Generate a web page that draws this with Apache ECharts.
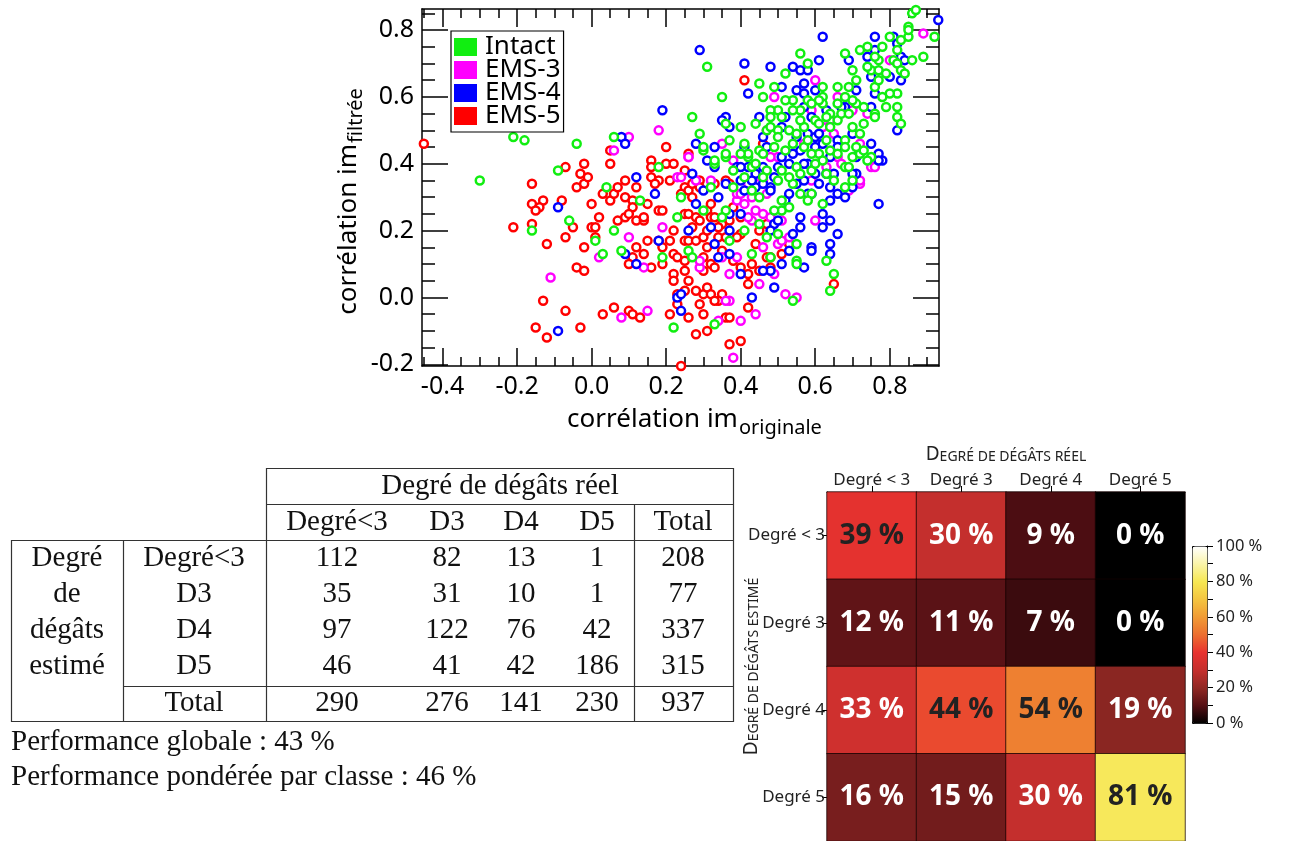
<!DOCTYPE html>
<html><head><meta charset="utf-8">
<script src="https://cdn.jsdelivr.net/npm/echarts@6/dist/echarts.min.js"></script>
<style>html,body{margin:0;padding:0;background:#fff}#c{width:1289px;height:841px}</style>
</head><body><div id="c"></div><script>
// ---------------- scatter data (corrélation im_originale, corrélation im_filtrée) ----------------
const intact = [[-0.30,0.35],[-0.21,0.48],[-0.18,0.47],[-0.04,0.46],[0.06,0.48],[-0.09,0.38],[0.04,0.33],[0.13,0.29],[-0.06,0.23],[-0.16,0.20],[0.06,0.20],[0.01,0.17],[0.03,0.13],[0.08,0.14],[0.19,0.12],[0.22,-0.09],[0.18,0.39],[0.24,0.30],[0.23,0.24],
[0.31,0.69],[0.35,0.60],[0.45,0.64],[0.46,0.60],[0.49,0.63],[0.52,0.67],[0.54,0.59],[0.56,0.73],[0.58,0.70],[0.62,0.63],[0.62,0.60],[0.66,0.63],[0.69,0.63],[0.71,0.65],[0.68,0.73],[0.72,0.74],[0.74,0.75],[0.70,0.68],[0.75,0.68],[0.74,0.69],[0.77,0.68],[0.76,0.63],[0.77,0.65],[0.77,0.71],[0.78,0.75],[0.80,0.78],[0.82,0.74],[0.83,0.77],[0.85,0.78],[0.79,0.67],[0.81,0.71],[0.86,0.71],[0.82,0.70],[0.83,0.68],[0.84,0.67],[0.82,0.61],[0.80,0.61],[0.82,0.57],[0.82,0.54],[0.83,0.52],[0.85,0.81],[0.85,0.80],[0.86,0.85],[0.87,0.86],[0.92,0.78],[0.89,0.72],[0.76,0.72],[0.78,0.60],[0.79,0.57],[0.73,0.57],[0.76,0.55],[0.76,0.54],[0.71,0.58],[0.70,0.59],[0.66,0.58],[0.68,0.60],[0.62,0.58],[0.61,0.59],[0.64,0.55],[0.58,0.59],[0.59,0.58],[0.56,0.56],[0.54,0.56],[0.50,0.56],[0.48,0.56],[0.48,0.54],[0.36,0.52],[0.40,0.51],[0.44,0.52],[0.27,0.54],[0.29,0.49],[0.30,0.44],[0.33,0.40],[0.37,0.47],[0.36,0.42],[0.41,0.46],[0.42,0.42],[0.45,0.44],[0.47,0.50],[0.50,0.50],[0.50,0.48],[0.51,0.54],[0.53,0.50],[0.55,0.49],[0.54,0.46],[0.57,0.51],[0.60,0.53],[0.61,0.52],[0.64,0.51],[0.63,0.47],[0.68,0.47],[0.70,0.51],[0.72,0.49],[0.68,0.45],[0.70,0.42],[0.72,0.43],[0.75,0.42],[0.61,0.43],[0.59,0.43],[0.63,0.37],[0.55,0.39],[0.51,0.38],[0.47,0.38],[0.43,0.39],[0.41,0.36],[0.38,0.33],[0.43,0.32],[0.50,0.35],[0.54,0.34],[0.68,0.39],[0.70,0.35],[0.73,0.44],[0.74,0.41],
[0.65,0.07],[0.64,0.02],[0.63,0.11],[0.55,0.11],[0.55,0.10],[0.54,-0.01],[0.55,0.16],[0.48,0.12],[0.47,0.18],[0.50,0.19],[0.43,0.13],[0.41,0.20],[0.45,0.22],[0.37,0.17],[0.36,0.26],[0.35,0.24],[0.30,0.26],[0.26,0.14],[0.27,0.12],[0.33,-0.08],[0.32,0.33],[0.33,0.41],[0.30,0.45],[0.36,0.43],[0.42,0.43],[0.51,0.29],[0.51,0.26],[0.49,0.26],[0.56,0.31],[0.59,0.31],[0.58,0.29],[0.62,0.28],[0.59,0.38],[0.53,0.36],[0.46,0.36],[0.44,0.40],[0.68,0.33],[0.69,0.39],
[0.57,0.45],[0.58,0.47],[0.62,0.41],[0.64,0.44],[0.66,0.53],[0.67,0.55],[0.69,0.55],[0.73,0.52],[0.52,0.44],[0.49,0.45],[0.46,0.43],[0.40,0.43],[0.38,0.38],[0.45,0.30],[0.53,0.27],[0.56,0.37],[0.60,0.40],[0.65,0.35],[0.71,0.45],[0.66,0.43],[0.56,0.53],[0.63,0.54],[0.52,0.59],[0.48,0.51]];
const ems3 = [[0.06,0.44],[0.10,0.48],[0.19,0.21],[0.10,0.18],[0.02,0.12],[0.14,0.09],[-0.11,0.06],[0.08,-0.06],[0.15,-0.04],[0.23,0.36],[0.18,0.50],[0.26,0.42],[0.24,0.36],
[0.60,0.65],[0.49,0.60],[0.80,0.71],[0.89,0.79],[0.74,0.55],[0.70,0.56],[0.66,0.60],[0.64,0.53],[0.59,0.56],[0.57,0.46],[0.62,0.51],[0.65,0.49],[0.72,0.46],[0.75,0.39],[0.72,0.34],[0.47,0.50],[0.38,0.41],[0.35,0.46],[0.63,0.39],[0.66,0.42],[0.67,0.40],[0.50,0.42],[0.48,0.42],[0.59,0.35],[0.46,0.35],[0.44,0.34],[0.32,0.35],
[0.72,0.35],[0.76,0.39],[0.69,0.32],[0.60,0.23],[0.52,0.01],[0.49,0.07],[0.45,0.04],[0.44,-0.05],[0.40,-0.07],[0.38,-0.18],[0.37,-0.01],[0.34,-0.07],[0.28,0.35],[0.26,0.42],[0.29,0.09],[0.29,0.11],[0.46,0.15],[0.50,0.16],[0.51,0.17],[0.53,0.18],[0.43,0.23],[0.42,0.24],[0.39,0.29],[0.39,0.31],[0.44,0.26],[0.46,0.25],[0.48,0.24],[0.51,0.23],[0.45,0.34],[0.42,0.34],[0.39,0.12],[0.35,0.12],[0.37,0.07],[0.36,-0.01],[0.55,0.00],[0.41,0.28],[0.43,0.30],[0.47,0.31],[0.40,0.31]];
const ems4 = [[-0.09,0.27],[0.12,0.36],[0.17,0.31],[0.09,0.13],[0.12,0.10],[0.18,0.17],[-0.09,-0.10],[0.23,0.00],[0.08,0.48],[0.09,0.46],[0.19,0.56],
[0.29,0.74],[0.41,0.70],[0.48,0.69],[0.42,0.61],[0.51,0.63],[0.54,0.69],[0.56,0.68],[0.58,0.68],[0.61,0.71],[0.62,0.78],[0.57,0.64],[0.55,0.62],[0.57,0.61],[0.60,0.62],[0.71,0.62],[0.69,0.71],[0.76,0.74],[0.74,0.72],[0.75,0.66],[0.81,0.78],[0.82,0.76],[0.83,0.72],[0.84,0.71],[0.80,0.66],[0.83,0.65],[0.82,0.50],[0.93,0.83],[0.76,0.78],[0.76,0.61],[0.75,0.57],[0.68,0.57],[0.67,0.57],[0.63,0.56],[0.57,0.57],[0.45,0.54],[0.36,0.54],[0.35,0.53],[0.37,0.51],[0.28,0.46],[0.31,0.41],[0.33,0.39],[0.33,0.45],[0.41,0.45],[0.46,0.48],[0.51,0.51],[0.52,0.54],[0.55,0.48],[0.58,0.49],[0.59,0.54],[0.60,0.48],[0.62,0.46],[0.66,0.47],[0.70,0.49],[0.75,0.46],[0.71,0.42],[0.77,0.43],[0.78,0.41],[0.60,0.37],[0.60,0.45],[0.58,0.40],[0.63,0.37],[0.65,0.37],[0.57,0.40],[0.53,0.40],[0.51,0.42],[0.47,0.45],[0.50,0.39],[0.55,0.34],[0.59,0.31],[0.66,0.31],[0.64,0.33],[0.66,0.45],[0.71,0.37],[0.46,0.39],[0.42,0.39],[0.39,0.39],[0.44,0.37],[0.36,0.34],[0.40,0.35],[0.41,0.32],[0.48,0.33],[0.27,0.37],
[0.77,0.28],[0.77,0.41],[0.70,0.33],[0.70,0.37],[0.68,0.30],[0.64,0.29],[0.62,0.21],[0.64,0.23],[0.66,0.19],[0.64,0.16],[0.64,0.13],[0.59,0.15],[0.59,0.14],[0.57,0.09],[0.56,0.21],[0.56,0.24],[0.54,0.19],[0.53,0.14],[0.51,0.10],[0.49,0.03],[0.43,0.00],[0.48,0.08],[0.46,0.08],[0.40,0.07],[0.37,0.13],[0.34,0.12],[0.33,0.16],[0.26,0.20],[0.32,0.21],[0.37,0.20],[0.40,0.25],[0.37,0.25],[0.34,0.30],[0.30,0.32],[0.28,0.28],[0.49,0.22],[0.48,0.20],[0.50,0.23],[0.52,0.29],[0.62,0.25],[0.58,0.31],[0.61,0.34],[0.40,0.39],[0.44,0.33],[0.46,0.34],[0.48,0.32],[0.53,0.31],[0.24,-0.04],[0.24,0.01],
[0.56,0.44],[0.61,0.49],[0.64,0.42],[0.54,0.43],[0.49,0.36],[0.43,0.35],[0.57,0.35]];
const ems5 = [[-0.45,0.46],
[-0.16,0.34],[-0.07,0.39],[-0.02,0.40],[-0.03,0.37],[-0.04,0.33],[-0.02,0.34],[-0.01,0.36],[0.05,0.40],[0.03,0.31],[0.05,0.29],[0.06,0.31],[0.07,0.33],[0.09,0.35],[0.09,0.30],[0.12,0.33],[0.11,0.29],[0.11,0.27],[0.15,0.28],[0.16,0.41],[0.16,0.39],[0.16,0.36],[0.18,0.35],[0.17,0.34],[0.20,0.40],[0.22,0.40],[0.21,0.35],[0.18,0.26],[0.19,0.26],
[-0.16,0.28],[-0.13,0.29],[-0.14,0.27],[-0.15,0.26],[-0.08,0.29],[-0.21,0.21],[-0.16,0.22],[-0.12,0.16],[-0.07,0.18],[-0.05,0.21],[0.00,0.28],[0.02,0.24],[0.07,0.23],[0.09,0.24],[0.10,0.25],[0.12,0.23],[0.14,0.23],[0.14,0.24],[0.00,0.21],[0.01,0.21],[0.01,0.18],[-0.02,0.15],[-0.04,0.09],[-0.02,0.08],[0.15,0.17],[0.18,0.17],[0.21,0.17],[0.19,0.15],[0.22,0.20],[0.12,0.15],[0.14,0.13],[0.11,0.12],[0.10,0.10],[0.19,0.10],[0.16,0.09],[0.22,0.13],[0.23,0.12],[0.22,0.07],[0.22,0.05],[0.23,0.01],[0.23,-0.02],[0.21,-0.05],[-0.13,-0.01],[-0.07,-0.04],[0.06,-0.03],[0.03,-0.05],[0.10,-0.04],[0.11,-0.05],[0.13,-0.06],[-0.03,-0.09],[-0.15,-0.09],[-0.12,-0.12],[0.24,-0.205],
[0.20,0.45],[0.05,0.44],[0.26,0.43],[0.25,0.38],[0.41,0.65],[0.46,0.46],[0.36,0.35],[0.33,0.34],[0.28,0.35],[0.25,0.33],[0.26,0.32],
[0.27,0.34],[0.29,0.35],[0.24,0.31],[0.27,0.30],[0.25,0.25],[0.26,0.25],[0.28,0.24],[0.29,0.23],[0.31,0.26],[0.32,0.24],[0.33,0.24],[0.35,0.22],[0.37,0.23],[0.40,0.24],[0.25,0.17],[0.26,0.17],[0.28,0.17],[0.30,0.18],[0.34,0.18],[0.36,0.18],[0.31,0.15],[0.35,0.14],[0.25,0.11],[0.30,0.12],[0.32,0.10],[0.33,0.09],[0.30,0.08],[0.25,0.08],[0.25,0.02],[0.28,0.02],[0.30,0.01],[0.31,0.03],[0.32,0.01],[0.35,0.01],[0.34,-0.01],[0.33,-0.01],[0.26,-0.06],[0.30,-0.05],[0.36,-0.06],[0.37,-0.06],[0.28,-0.11],[0.31,-0.10],[0.37,-0.14],[0.40,-0.13],[0.42,-0.03],[0.42,0.04],[0.40,0.09],[0.42,0.07],[0.45,0.08],[0.44,0.16],[0.47,0.12],[0.48,0.12],[0.51,0.13],[0.48,0.09],[0.53,0.16],[0.47,0.22],[0.45,0.20],[0.40,0.19],[0.39,0.18],[0.65,0.04],[0.37,0.34],[0.29,0.33],[0.27,0.21],[0.31,0.20],[0.34,0.21],[0.38,0.27],[0.32,0.28],[0.26,0.05],[0.29,-0.02],[0.38,0.11],[0.43,0.10]];

// ---------------- axis tick values ----------------
const xMajor = [-0.4,-0.2,0,0.2,0.4,0.6,0.8];
const xMinor = [-0.45,-0.35,-0.3,-0.25,-0.15,-0.1,-0.05,0.05,0.1,0.15,0.25,0.3,0.35,0.45,0.5,0.55,0.65,0.7,0.75,0.85,0.9];
const yMajor = [-0.2,0,0.2,0.4,0.6,0.8];
const yMinor = [-0.15,-0.1,-0.05,0.05,0.1,0.15,0.25,0.3,0.35,0.45,0.5,0.55,0.65,0.7,0.75,0.85];

// ---------------- heatmap (%) ----------------
const heatCols = ['Degré < 3','Degré 3','Degré 4','Degré 5'];
const heatRows = ['Degré < 3','Degré 3','Degré 4','Degré 5'];
const heatPct = [[39,30,9,0],[12,11,7,0],[33,44,54,19],[16,15,30,81]];
const cbTicks = [0,20,40,60,80,100];

// ---------------- table ----------------
const tabColHeads = ['Degré<3','D3','D4','D5','Total'];
const tabRowHeads = ['Degré<3','D3','D4','D5'];
const tabLeftWords = ['Degré','de','dégâts','estimé'];
const tabCounts = [[112,82,13,1,208],[35,31,10,1,77],[97,122,76,42,337],[46,41,42,186,315]];
const tabTotals = [290,276,141,230,937];
const perfGlobal = 43, perfWeighted = 46;

const SANS = '"Noto Sans", "Open Sans", sans-serif';
const SERIF = '"Liberation Serif", "DejaVu Serif", serif';

// heatmap data
const heatData = [];
heatPct.forEach((row, r) => row.forEach((v, c) => {
  heatData.push({value: [c, r, v], label: {color: v > 35 ? '#222' : '#fff'}});
}));

// table graphics
const G = [];
function txt(s, x, y, align) {
  G.push({type: 'text', silent: true, style: {text: String(s), x: x, y: y, textAlign: align || 'center', textVerticalAlign: 'middle', align: align || 'center', verticalAlign: 'middle', fontSize: 29, fontFamily: SERIF, fill: '#111'}});
}
function ln(x1, y1, x2, y2) {
  G.push({type: 'line', silent: true, shape: {x1: x1, y1: y1, x2: x2, y2: y2}, style: {stroke: '#333', lineWidth: 1.2}});
}
const colX = [337, 447, 521, 597, 683];
const rowY = [558, 594, 630, 666];
const totY = 703;
ln(266, 468.5, 733, 468.5); ln(266, 504.5, 733, 504.5); ln(11, 540.5, 733, 540.5);
ln(123, 686.5, 733, 686.5); ln(11, 721.5, 733, 721.5);
ln(11.5, 540, 11.5, 722); ln(123.5, 540, 123.5, 722); ln(266.5, 468, 266.5, 722);
ln(634.5, 504, 634.5, 722); ln(733.5, 468, 733.5, 722);
txt('Degré de dégâts réel', 500, 486);
tabColHeads.forEach((h, i) => txt(h, colX[i], 522));
tabLeftWords.forEach((w, i) => txt(w, 67, rowY[i]));
tabRowHeads.forEach((h, i) => txt(h, 194, rowY[i]));
tabCounts.forEach((row, r) => row.forEach((v, c) => txt(v, colX[c], rowY[r])));
txt('Total', 194, totY);
tabTotals.forEach((v, c) => txt(v, colX[c], totY));
txt('Performance globale : ' + perfGlobal + ' %', 11, 742, 'left');
txt('Performance pondérée par classe : ' + perfWeighted + ' %', 11, 777, 'left');

const axLine = {show: true, onZero: false, lineStyle: {color: '#000', width: 1.5}};
const noLabel = {show: false};
function tickAxis(pos, vals, len, grid, minv, maxv, lineShow) {
  return {type: 'value', gridIndex: grid, position: pos, min: minv, max: maxv,
    axisLine: lineShow ? axLine : {show: false, onZero: false}, splitLine: {show: false}, axisLabel: noLabel,
    axisTick: {show: true, inside: true, length: len, customValues: vals, lineStyle: {color: '#000', width: 1.5}}};
}
const XMIN = -0.455, XMAX = 0.932, YMIN = -0.205, YMAX = 0.863;
const HEAT_FONT = 17;

const option = {
  animation: false,
  backgroundColor: '#fff',
  textStyle: {fontFamily: SANS},
  graphic: G,
  grid: [
    {left: 422, top: 9, width: 517, height: 357},
    {left: 827, top: 492, width: 358, height: 352},
    {left: 1192, top: 546, width: 15, height: 177}
  ],
  legend: {
    data: [
      {name: 'Intact', itemStyle: {color: '#11ee11', borderWidth: 0, opacity: 1}},
      {name: 'EMS-3', itemStyle: {color: '#ff00ff', borderWidth: 0, opacity: 1}},
      {name: 'EMS-4', itemStyle: {color: '#0000ff', borderWidth: 0, opacity: 1}},
      {name: 'EMS-5', itemStyle: {color: '#ff0000', borderWidth: 0, opacity: 1}}
    ],
    orient: 'vertical', left: 451, top: 31,
    itemWidth: 23, itemHeight: 18, itemGap: -3, icon: 'rect',
    backgroundColor: '#fff', borderColor: '#000', borderWidth: 1.2, padding: [3, 3, 3, 3],
    textStyle: {fontSize: 26, color: '#000', fontFamily: SANS, padding: [0, 0, 0, 3]},
    selectedMode: false
  },
  xAxis: [
    Object.assign(tickAxis('bottom', xMajor, 18, 0, XMIN, XMAX, true), {
      axisLabel: {show: true, customValues: xMajor, fontSize: 25, color: '#000', margin: 8, formatter: v => v.toFixed(1)},
      name: '{a|corrélation im}{b|originale}', nameLocation: 'middle', nameGap: 41,
      nameTextStyle: {padding: [0, 0, 0, 28], rich: {a: {fontSize: 26, color: '#000', fontFamily: SANS, verticalAlign: 'top'}, b: {fontSize: 20, color: '#000', fontFamily: SANS, verticalAlign: 'top', padding: [11, 0, 0, 1]}}}
    }),
    tickAxis('bottom', xMinor, 9, 0, XMIN, XMAX, false),
    tickAxis('top', xMajor, 18, 0, XMIN, XMAX, true),
    tickAxis('top', xMinor, 9, 0, XMIN, XMAX, false),
    {type: 'category', gridIndex: 1, position: 'top', data: heatCols,
      axisLine: {show: true, lineStyle: {color: '#000', width: 1}},
      axisTick: {show: true, alignWithLabel: true, length: 6, lineStyle: {color: '#000'}},
      axisLabel: {interval: 0, fontSize: HEAT_FONT, color: '#222', margin: 3, fontFamily: SANS},
      name: '{D|D}{s|EGRÉ DE DÉGÂTS RÉEL}', nameLocation: 'middle', nameGap: 28,
      nameTextStyle: {rich: {D: {fontSize: 19, color: '#222', fontFamily: SANS, verticalAlign: 'bottom'}, s: {fontSize: 14, color: '#222', fontFamily: SANS, verticalAlign: 'bottom'}}}
    },
    {type: 'value', gridIndex: 2, min: 0, max: 1, show: false}
  ],
  yAxis: [
    Object.assign(tickAxis('left', yMajor, 26, 0, YMIN, YMAX, true), {
      axisLabel: {show: true, customValues: yMajor, fontSize: 25, color: '#000', margin: 8, formatter: v => v.toFixed(1)},
      name: '{a|corrélation im}{b|filtrée}', nameLocation: 'middle', nameRotate: 90, nameGap: 46,
      nameTextStyle: {padding: [0, 28, 0, 0], rich: {a: {fontSize: 26, color: '#000', fontFamily: SANS, verticalAlign: 'top'}, b: {fontSize: 20, color: '#000', fontFamily: SANS, verticalAlign: 'top', padding: [11, 0, 0, 1]}}}
    }),
    tickAxis('left', yMinor, 13, 0, YMIN, YMAX, false),
    tickAxis('right', yMajor, 26, 0, YMIN, YMAX, true),
    tickAxis('right', yMinor, 13, 0, YMIN, YMAX, false),
    {type: 'category', gridIndex: 1, data: heatRows, inverse: true,
      axisLine: {show: true, lineStyle: {color: '#000', width: 1}},
      axisTick: {show: true, alignWithLabel: true, length: 5, lineStyle: {color: '#000'}},
      axisLabel: {interval: 0, fontSize: HEAT_FONT, color: '#222', margin: 2, fontFamily: SANS},
      name: '{D|D}{s|EGRÉ DE DÉGÂTS ESTIMÉ}', nameLocation: 'middle', nameRotate: 90, nameGap: 66, nameMoveOverlap: false,
      nameTextStyle: {rich: {D: {fontSize: 19, color: '#222', fontFamily: SANS, verticalAlign: 'bottom'}, s: {fontSize: 14, color: '#222', fontFamily: SANS, verticalAlign: 'bottom'}}}
    },
    {type: 'value', gridIndex: 2, position: 'right', min: 0, max: 100,
      axisLine: {show: true, onZero: false, lineStyle: {color: '#000', width: 1}}, splitLine: {show: false},
      axisTick: {show: true, customValues: [0,10,20,30,40,50,60,70,80,90,100], length: 6, lineStyle: {color: '#000'}},
      axisLabel: {customValues: cbTicks, fontSize: 16.5, color: '#222', margin: 9, fontFamily: SANS, formatter: v => v + ' %'}}
  ],
  visualMap: {
    type: 'continuous', seriesIndex: 4, min: 0, max: 100, calculable: false, show: true,
    left: 1192, top: 546, itemWidth: 15, itemHeight: 177, padding: 0, text: null, showLabel: false,
    borderColor: '#000', borderWidth: 1,
    inRange: {color: ['#000000', '#540f14', '#902824', '#c42f2d', '#e8322f', '#ec6e2f', '#f19b35', '#f4c440', '#f7e752', '#faf4a8', '#ffffff']}
  },
  series: [
    {name: 'EMS-5', type: 'scatter', data: ems5, symbol: 'circle', symbolSize: 8, itemStyle: {opacity: 1, color: '#fff', borderColor: '#ff0000', borderWidth: 2.5}},
    {name: 'EMS-3', type: 'scatter', data: ems3, symbol: 'circle', symbolSize: 8, itemStyle: {opacity: 1, color: '#fff', borderColor: '#ff00ff', borderWidth: 2.5}},
    {name: 'EMS-4', type: 'scatter', data: ems4, symbol: 'circle', symbolSize: 8, itemStyle: {opacity: 1, color: '#fff', borderColor: '#0000ff', borderWidth: 2.5}},
    {name: 'Intact', type: 'scatter', data: intact, symbol: 'circle', symbolSize: 8, itemStyle: {opacity: 1, color: '#fff', borderColor: '#11ee11', borderWidth: 2.5}},
    {type: 'heatmap', xAxisIndex: 4, yAxisIndex: 4, data: heatData,
      itemStyle: {borderColor: 'rgba(20,0,0,0.75)', borderWidth: 1},
      label: {show: true, fontSize: 28, fontWeight: 'bold', fontFamily: '"Open Sans", "Noto Sans", sans-serif', formatter: p => p.value[2] + ' %'}}
  ]
};
const chart = echarts.init(document.getElementById('c'), null, {renderer: 'canvas'});
chart.setOption(option);
</script></body></html>
